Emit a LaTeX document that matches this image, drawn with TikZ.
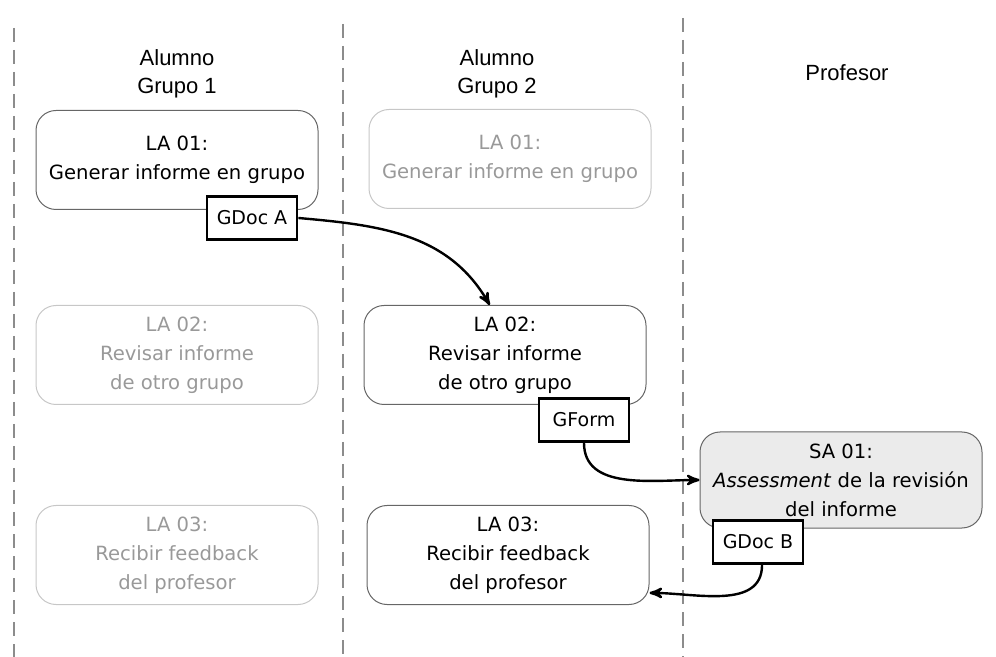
\documentclass[tikz,border=0pt]{standalone}
\usepackage{fontspec}
\setmainfont{DejaVu Sans}
\newfontfamily\headfont{Liberation Sans}
\usetikzlibrary{arrows, positioning, shapes.misc}

\begin{document}
\begin{tikzpicture}[x=0.5pt, y=0.5pt,
			>=stealth',
			act/.style={draw=black!60, line width=0.5pt, rounded corners=10pt,
				minimum width=141pt, minimum height=49.5pt, align=center,
				font=\fontsize{9.8}{14.5}\selectfont},
			faded/.style={act, draw=black!22, text=black!40},
			doc/.style={draw=black, fill=white, line width=1.4pt,
				minimum width=45pt, minimum height=21.5pt, inner sep=2pt,
				font=\fontsize{9.5}{11}\selectfont},
			head/.style={align=center, font=\headfont\fontsize{11}{14}\selectfont},
			lane/.style={draw=black!45, line width=1pt, dash pattern=on 7pt off 4pt},
			flow/.style={->, line width=1.2pt}]
			\useasboundingbox (0,0) rectangle (996,-657);
			% swimlanes
			\foreach \x/\y in {14/-28, 343/-24, 683/-18}
				\draw[lane] (\x,\y) -- (\x,-657);
			\node[head] (h1) at (177,-74) {Alumno\\Grupo 1};
			\node[head] (h2) at (497,-74) {Alumno\\Grupo 2};
			\node[head] (h3) at (847,-73) {Profesor};
			% activities
			\node[act] (la1a) at (177,-160) {LA 01:\\Generar informe en grupo};
			\node[faded] (la1b) at (510,-159) {LA 01:\\Generar informe en grupo};
			\node[faded] (la2a) at (177,-355) {LA 02:\\Revisar informe\\de otro grupo};
			\node[act] (la2b) at (505,-355) {LA 02:\\Revisar informe\\de otro grupo};
			\node[faded] (la3a) at (177,-555) {LA 03:\\Recibir feedback\\del profesor};
			\node[act] (la3b) at (508,-555) {LA 03:\\Recibir feedback\\del profesor};
			\node[act, fill=black!8, minimum height=48pt] (sa1) at (841,-480) {SA 01:\\\textit{Assessment} de la revisión\\del informe};
			% documents
			\node[doc] (gdocA) at (252,-218) {GDoc A};
			\node[doc] (gform) at (584,-420) {GForm};
			\node[doc] (gdocB) at (758,-542) {GDoc B};
			\draw[flow] (gdocA.east) to[out=-5, in=120] (la2b.107);
			\draw[flow] (gform.south) to[out=-90, in=180] (sa1.west);
			\draw[flow] (gdocB.-80) to[out=-90, in=0] (la3b.-15);
		\end{tikzpicture}
\end{document}
